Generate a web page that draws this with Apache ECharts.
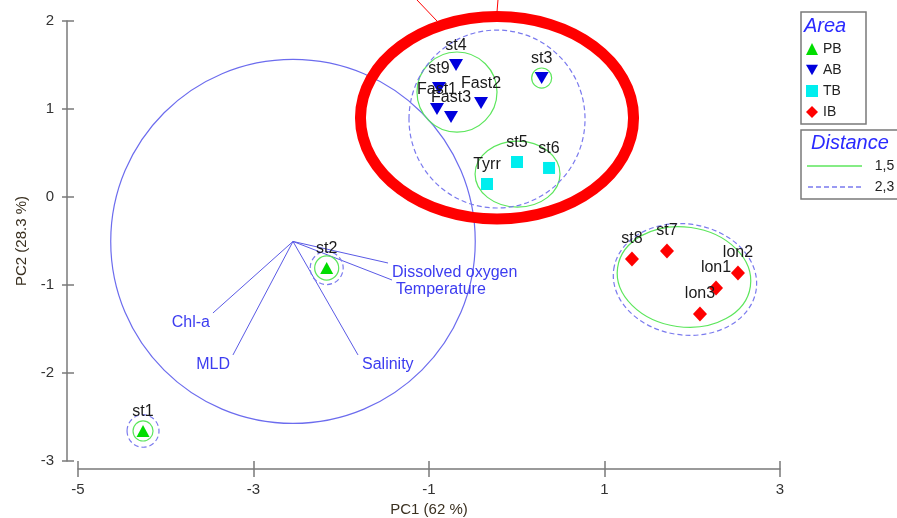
<!DOCTYPE html>
<html><head><meta charset="utf-8">
<script src="https://cdn.jsdelivr.net/npm/echarts@6/dist/echarts.min.js"></script>
<style>html,body{margin:0;padding:0;background:#fff}#c{width:897px;height:518px}</style>
</head><body><div id="c"></div>
<script>
// ---- data ----
const xTicks = [-5, -3, -1, 1, 3];
const yTicks = [-3, -2, -1, 0, 1, 2];

const pbNames = ['st1', 'st2'];
const pbX = [-4.259, -2.166];
const pbY = [-2.659, -0.807];

const abNames = ['st4', 'st9', 'Fast1', 'Fast3', 'Fast2', 'st3'];
const abX = [-0.692, -0.886, -0.909, -0.749, -0.407, 0.284];
const abY = [1.50, 1.239, 1.00, 0.909, 1.068, 1.352];

const tbNames = ['Tyrr', 'st5', 'st6'];
const tbX = [-0.339, 0.003, 0.368];
const tbY = [0.148, 0.398, 0.330];

const ibNames = ['st8', 'st7', 'lon2', 'lon1', 'lon3'];
const ibX = [1.313, 1.712, 2.521, 2.271, 2.088];
const ibY = [-0.705, -0.614, -0.864, -1.034, -1.330];

const varNames = ['Chl-a', 'MLD', 'Salinity', 'Dissolved oxygen', 'Temperature'];
const varX = [-3.462, -3.234, -1.809, -1.467, -1.422];
const varY = [-1.318, -1.795, -1.795, -0.750, -0.943];
const varOrigin = [-2.55, -0.505];
const corrCircle = [[-2.55, -0.505, 2.077, 2.068, 0]];

// cluster contours: [cx, cy, rx, ry, tilt(deg, clockwise)]
const contour15 = [
  [-4.259, -2.659, 0.114, 0.114, 0],
  [-2.166, -0.807, 0.137, 0.137, 0],
  [0.284, 1.352, 0.114, 0.114, 0],
  [-0.681, 1.193, 0.456, 0.455, 0],
  [0.009, 0.261, 0.484, 0.375, 0],
  [1.906, -0.909, 0.764, 0.568, 8]
];
const contour23 = [
  [-4.259, -2.659, 0.182, 0.185, 0],
  [-2.166, -0.807, 0.188, 0.188, 0],
  [-0.225, 0.886, 1.003, 1.011, 0],
  [1.917, -0.937, 0.820, 0.631, 8]
];
const highlightEllipse = [[-0.225, 0.900, 1.556, 1.150, 0]];
const highlightLines = [[-1.137, 2.239, -0.909, 2.0], [-0.214, 2.239, -0.225, 2.102]];

// ---- chart ----
const FONT = '"Liberation Sans", Arial, sans-serif';
const chart = echarts.init(document.getElementById('c'), null, {renderer: 'canvas'});

function pts(names, xs, ys) {
  return names.map((n, i) => ({name: n, value: [xs[i], ys[i]]}));
}
function ellipseRender(stroke, dash, width) {
  return function (params, api) {
    const c = api.coord([api.value(0), api.value(1)]);
    const s = api.size([api.value(2), api.value(3)]);
    return {
      type: 'ellipse', x: c[0], y: c[1],
      rotation: -api.value(4) * Math.PI / 180,
      shape: {cx: 0, cy: 0, rx: s[0], ry: s[1]},
      style: {fill: 'none', stroke: stroke, lineWidth: width, lineDash: dash},
      silent: true
    };
  };
}
const labelStyle = {show: true, position: 'top', distance: 5, formatter: '{b}',
  color: '#1a1a1a', fontSize: 16, fontFamily: FONT};

let dashPath = 'path://';
for (let x = 0; x < 55; x += 8) dashPath += 'M' + x + ',0h' + Math.min(5, 55 - x) + 'v1.5h-' + Math.min(5, 55 - x) + 'z';

const axisLineStyle = {color: '#7a7a7a', width: 1.5};
const commonX = {type: 'value', min: -5, max: 3, position: 'bottom', offset: 8, splitLine: {show: false}};
const commonY = {type: 'value', min: -3, max: 2, position: 'left', offset: 11, splitLine: {show: false}};

chart.setOption({
  animation: false,
  backgroundColor: '#fff',
  grid: {left: 78, right: 117, top: 21, bottom: 57, outerBoundsMode: 'none', containLabel: false},
  xAxis: [
    Object.assign({}, commonX, {
      name: 'PC1 (62 %)', nameLocation: 'middle', nameGap: 31,
      nameTextStyle: {fontSize: 15, color: '#3a3020', fontFamily: FONT},
      axisLine: {show: true, onZero: false, lineStyle: axisLineStyle},
      axisTick: {show: true, length: 8, customValues: xTicks, lineStyle: axisLineStyle},
      axisLabel: {customValues: xTicks, fontSize: 15, color: '#333', margin: 13, fontFamily: FONT}
    }),
    Object.assign({}, commonX, {
      axisLine: {show: false, onZero: false},
      axisTick: {show: true, inside: true, length: 8, customValues: xTicks, lineStyle: axisLineStyle},
      axisLabel: {show: false, customValues: xTicks}
    })
  ],
  yAxis: [
    Object.assign({}, commonY, {
      name: 'PC2 (28.3 %)', nameLocation: 'middle', nameGap: 35, nameRotate: 90,
      nameTextStyle: {fontSize: 15, color: '#3a3020', fontFamily: FONT},
      axisLine: {show: true, onZero: false, lineStyle: axisLineStyle},
      axisTick: {show: true, length: 5, customValues: yTicks, lineStyle: axisLineStyle},
      axisLabel: {customValues: yTicks, fontSize: 15, color: '#333', margin: 13, fontFamily: FONT}
    }),
    Object.assign({}, commonY, {
      axisLine: {show: false, onZero: false},
      axisTick: {show: true, inside: true, length: 7, customValues: yTicks, lineStyle: axisLineStyle},
      axisLabel: {show: false, customValues: yTicks}
    })
  ],
  legend: [
    {
      data: ['PB', 'AB', 'TB', 'IB'], orient: 'vertical', left: 806, top: 42, padding: 0,
      itemWidth: 12, itemHeight: 12, itemGap: 7, selectedMode: false,
      textStyle: {fontSize: 14, color: '#222', fontFamily: FONT}
    },
    {
      data: [{name: '1,5', icon: 'path://M0,0h55v1.5h-55z'}, {name: '2,3', icon: dashPath}],
      orient: 'vertical', left: 807, top: 159, padding: 0,
      itemWidth: 55, itemHeight: 1.5, itemGap: 7, selectedMode: false,
      formatter: '  {name}',
      textStyle: {fontSize: 14, color: '#222', fontFamily: FONT}
    }
  ],
  graphic: [
    {type: 'rect', x: 801, y: 12, shape: {x: 0, y: 0, width: 65, height: 112},
      style: {fill: 'none', stroke: '#7a7a7a', lineWidth: 1.5}},
    {type: 'text', x: 804, y: 26, style: {text: 'Area', font: 'italic 20px ' + FONT, fill: '#2a2aff', verticalAlign: 'middle'}},
    {type: 'rect', x: 801, y: 130, shape: {x: 0, y: 0, width: 120, height: 69},
      style: {fill: 'none', stroke: '#7a7a7a', lineWidth: 1.5}},
    {type: 'text', x: 811, y: 143, style: {text: 'Distance', font: 'italic 20px ' + FONT, fill: '#2a2aff', verticalAlign: 'middle'}}
  ],
  series: [
    {type: 'custom', name: 'corr', data: corrCircle, encode: {x: 0, y: 1}, z: 1,
      renderItem: ellipseRender('#6c6cee', null, 1.2), silent: true},
    {type: 'custom', name: 'vectors', z: 2, silent: true,
      data: varX.map((x, i) => [x, varY[i]]), encode: {x: 0, y: 1},
      renderItem: function (params, api) {
        const o = api.coord(varOrigin);
        const e = api.coord([api.value(0), api.value(1)]);
        const right = e[0] > o[0];
        return {type: 'group', children: [
          {type: 'line', shape: {x1: o[0], y1: o[1], x2: e[0], y2: e[1]}, style: {stroke: '#5a5ae6', lineWidth: 1}},
          {type: 'text', x: e[0] + (right ? 4 : -3), y: e[1] + 2,
            style: {text: varNames[params.dataIndex], fill: '#3c3cf0', font: '16px ' + FONT,
              align: right ? 'left' : 'right', verticalAlign: 'top'}}
        ]};
      }},
    {type: 'custom', name: '1,5', data: contour15, encode: {x: 0, y: 1}, z: 2, silent: true,
      itemStyle: {color: '#5ce65c'}, renderItem: ellipseRender('#5ce65c', null, 1.2)},
    {type: 'custom', name: '2,3', data: contour23, encode: {x: 0, y: 1}, z: 2, silent: true,
      itemStyle: {color: '#7a7aee'}, renderItem: ellipseRender('#7a7aee', [5, 3], 1.2)},
    {type: 'scatter', name: 'PB', data: pts(pbNames, pbX, pbY), symbol: 'triangle', symbolSize: [13, 12],
      itemStyle: {color: '#00dd00', opacity: 1}, label: labelStyle, z: 5},
    {type: 'scatter', name: 'AB', data: pts(abNames, abX, abY), symbol: 'path://M0,0L14,0L7,12Z', symbolSize: [14, 12],
      itemStyle: {color: '#0000dd', opacity: 1}, label: labelStyle, z: 5},
    {type: 'scatter', name: 'TB', data: pts(tbNames, tbX, tbY), symbol: 'rect', symbolSize: 12,
      itemStyle: {color: '#00eeee', opacity: 1}, label: labelStyle, z: 5},
    {type: 'scatter', name: 'IB', data: pts(ibNames, ibX, ibY), symbol: 'diamond', symbolSize: [14, 15],
      itemStyle: {color: '#ff0000', opacity: 1}, label: labelStyle, z: 5},
    {type: 'custom', name: 'highlight', data: highlightEllipse, encode: {x: 0, y: 1}, z: 10, silent: true,
      renderItem: ellipseRender('#ff0000', null, 11)},
    {type: 'custom', name: 'pointer', data: highlightLines, encode: {x: [0, 2], y: [1, 3]}, z: 10, silent: true,
      renderItem: function (params, api) {
        const a = api.coord([api.value(0), api.value(1)]);
        const b = api.coord([api.value(2), api.value(3)]);
        return {type: 'line', shape: {x1: a[0], y1: a[1], x2: b[0], y2: b[1]}, style: {stroke: '#ff0000', lineWidth: 1}};
      }}
  ]
});
</script></body></html>
